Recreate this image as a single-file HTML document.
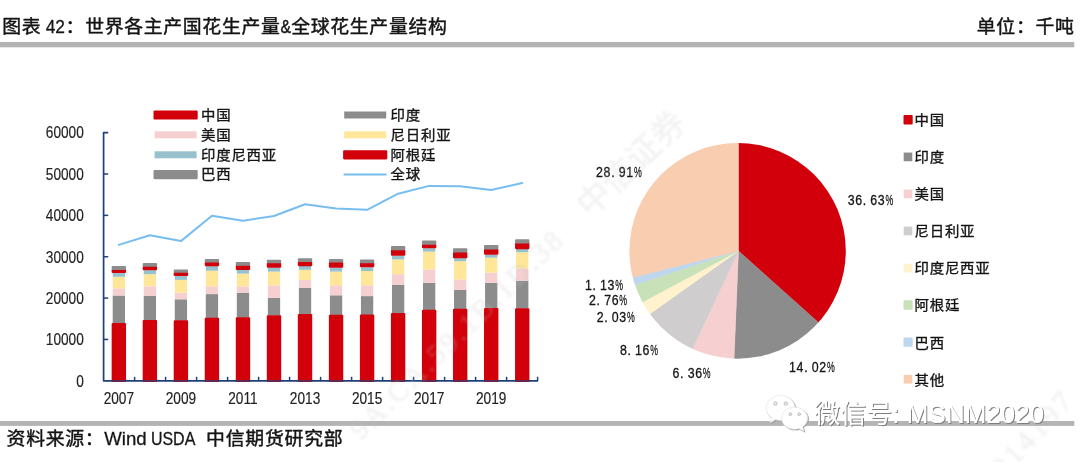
<!DOCTYPE html>
<html lang="zh-CN">
<head>
<meta charset="utf-8">
<title>图表 42：世界各主产国花生产量&amp;全球花生产量结构</title>
<style>
html,body{margin:0;padding:0;background:#fff;}
body{width:1080px;height:462px;overflow:hidden;}
svg{display:block;}
</style>
</head>
<body>
<svg width="1080" height="462" viewBox="0 0 1080 462">
<defs>
<clipPath id="plot"><rect x="103.6" y="120" width="440" height="261.90"/></clipPath>
<filter id="soft" x="-10%" y="-10%" width="120%" height="120%"><feGaussianBlur stdDeviation="1.1"/></filter>
<filter id="shadow" x="-5%" y="-20%" width="110%" height="150%"><feOffset in="SourceAlpha" dx="1" dy="1" result="o"/><feFlood flood-color="#7e7e7e"/><feComposite in2="o" operator="in" result="s"/><feMerge><feMergeNode in="s"/><feMergeNode in="SourceGraphic"/></feMerge></filter>
</defs>
<rect width="1080" height="462" fill="#fff"/>
<rect x="0.00" y="42.00" width="1074.30" height="5.30" fill="#b4b4b4"/>
<rect x="0.00" y="421.00" width="1074.30" height="4.90" fill="#b4b4b4"/>
<text transform="translate(0 33.3) scale(1 0.955)" font-family='"Liberation Sans","Noto Sans CJK SC",sans-serif' font-size="18.9" fill="#141414" stroke="#141414" stroke-width="0.45" stroke-linejoin="round" xml:space="preserve"><tspan x="2.3" letter-spacing="0.65">图表 </tspan><tspan x="45.7" font-size="19.90" stroke-width="0.3" textLength="19.3" lengthAdjust="spacingAndGlyphs">42</tspan><tspan x="65.6" letter-spacing="0.65">：世界各主产国花生产量</tspan><tspan x="280.6" font-size="19.48" stroke-width="0.5" textLength="10.4" lengthAdjust="spacingAndGlyphs">&amp;</tspan><tspan x="291.2" letter-spacing="0.65">全球花生产量结构</tspan></text>
<text transform="translate(976.80 33.30) scale(1.0 0.955)" font-family='"Liberation Sans","Noto Sans CJK SC",sans-serif' font-size="18.9" fill="#141414" stroke="#141414" stroke-width="0.45" stroke-linejoin="round" letter-spacing="0.65">单位：千吨</text>
<text transform="translate(0 445.3) scale(1 0.955)" font-family='"Liberation Sans","Noto Sans CJK SC",sans-serif' font-size="18.9" fill="#141414" stroke="#141414" stroke-width="0.45" stroke-linejoin="round" xml:space="preserve"><tspan x="6.6" letter-spacing="0.65">资料来源：</tspan><tspan x="104.3" font-size="19.48" stroke-width="0.3" textLength="42.4" lengthAdjust="spacingAndGlyphs">Wind</tspan><tspan x="146.0" letter-spacing="0"> </tspan><tspan x="150.9" font-size="19.48" stroke-width="0.3" textLength="44.4" lengthAdjust="spacingAndGlyphs">USDA</tspan><tspan x="196.0" letter-spacing="0">  </tspan><tspan x="206.0" letter-spacing="0.75">中信期货研究部</tspan></text>
<g clip-path="url(#plot)">
<rect x="112.70" y="295.50" width="12.30" height="28.00" fill="#8c8c8c"/>
<rect x="112.70" y="288.40" width="12.30" height="7.10" fill="#f6cfd0"/>
<rect x="112.70" y="276.80" width="12.30" height="11.60" fill="#ffe699"/>
<rect x="112.70" y="272.90" width="12.30" height="3.90" fill="#97c1cc"/>
<rect x="112.70" y="324.05" width="12.30" height="61.80" fill="#d2000a" stroke="#d2000a" stroke-width="2.1" stroke-linejoin="round"/>
<rect x="112.70" y="270.25" width="12.30" height="1.75" fill="#d2000a" stroke="#d2000a" stroke-width="2.1" stroke-linejoin="round"/>
<rect x="112.70" y="267.05" width="12.30" height="1.80" fill="#8c8c8c" stroke="#8c8c8c" stroke-width="2.1" stroke-linejoin="round"/>
<rect x="143.73" y="296.00" width="12.30" height="24.40" fill="#8c8c8c"/>
<rect x="143.73" y="286.30" width="12.30" height="9.70" fill="#f6cfd0"/>
<rect x="143.73" y="274.20" width="12.30" height="12.10" fill="#ffe699"/>
<rect x="143.73" y="270.20" width="12.30" height="4.00" fill="#97c1cc"/>
<rect x="143.73" y="320.95" width="12.30" height="64.90" fill="#d2000a" stroke="#d2000a" stroke-width="2.1" stroke-linejoin="round"/>
<rect x="143.73" y="267.15" width="12.30" height="2.15" fill="#d2000a" stroke="#d2000a" stroke-width="2.1" stroke-linejoin="round"/>
<rect x="143.73" y="264.15" width="12.30" height="1.60" fill="#8c8c8c" stroke="#8c8c8c" stroke-width="2.1" stroke-linejoin="round"/>
<rect x="174.76" y="299.30" width="12.30" height="21.40" fill="#8c8c8c"/>
<rect x="174.76" y="292.70" width="12.30" height="6.60" fill="#f6cfd0"/>
<rect x="174.76" y="279.90" width="12.30" height="12.80" fill="#ffe699"/>
<rect x="174.76" y="275.90" width="12.30" height="4.00" fill="#97c1cc"/>
<rect x="174.76" y="321.25" width="12.30" height="64.60" fill="#d2000a" stroke="#d2000a" stroke-width="2.1" stroke-linejoin="round"/>
<rect x="174.76" y="273.15" width="12.30" height="1.85" fill="#d2000a" stroke="#d2000a" stroke-width="2.1" stroke-linejoin="round"/>
<rect x="174.76" y="270.55" width="12.30" height="1.20" fill="#8c8c8c" stroke="#8c8c8c" stroke-width="2.1" stroke-linejoin="round"/>
<rect x="205.79" y="294.10" width="12.30" height="24.20" fill="#8c8c8c"/>
<rect x="205.79" y="286.30" width="12.30" height="7.80" fill="#f6cfd0"/>
<rect x="205.79" y="270.70" width="12.30" height="15.60" fill="#ffe699"/>
<rect x="205.79" y="266.00" width="12.30" height="4.70" fill="#97c1cc"/>
<rect x="205.79" y="318.85" width="12.30" height="67.00" fill="#d2000a" stroke="#d2000a" stroke-width="2.1" stroke-linejoin="round"/>
<rect x="205.79" y="262.95" width="12.30" height="2.15" fill="#d2000a" stroke="#d2000a" stroke-width="2.1" stroke-linejoin="round"/>
<rect x="205.79" y="260.15" width="12.30" height="1.40" fill="#8c8c8c" stroke="#8c8c8c" stroke-width="2.1" stroke-linejoin="round"/>
<rect x="236.82" y="292.70" width="12.30" height="25.10" fill="#8c8c8c"/>
<rect x="236.82" y="286.30" width="12.30" height="6.40" fill="#f6cfd0"/>
<rect x="236.82" y="273.60" width="12.30" height="12.70" fill="#ffe699"/>
<rect x="236.82" y="269.80" width="12.30" height="3.80" fill="#97c1cc"/>
<rect x="236.82" y="318.35" width="12.30" height="67.50" fill="#d2000a" stroke="#d2000a" stroke-width="2.1" stroke-linejoin="round"/>
<rect x="236.82" y="266.05" width="12.30" height="2.85" fill="#d2000a" stroke="#d2000a" stroke-width="2.1" stroke-linejoin="round"/>
<rect x="236.82" y="263.05" width="12.30" height="1.60" fill="#8c8c8c" stroke="#8c8c8c" stroke-width="2.1" stroke-linejoin="round"/>
<rect x="267.85" y="297.90" width="12.30" height="17.80" fill="#8c8c8c"/>
<rect x="267.85" y="285.40" width="12.30" height="12.50" fill="#f6cfd0"/>
<rect x="267.85" y="271.60" width="12.30" height="13.80" fill="#ffe699"/>
<rect x="267.85" y="267.60" width="12.30" height="4.00" fill="#97c1cc"/>
<rect x="267.85" y="316.25" width="12.30" height="69.60" fill="#d2000a" stroke="#d2000a" stroke-width="2.1" stroke-linejoin="round"/>
<rect x="267.85" y="263.65" width="12.30" height="3.05" fill="#d2000a" stroke="#d2000a" stroke-width="2.1" stroke-linejoin="round"/>
<rect x="267.85" y="260.85" width="12.30" height="1.40" fill="#8c8c8c" stroke="#8c8c8c" stroke-width="2.1" stroke-linejoin="round"/>
<rect x="298.88" y="287.70" width="12.30" height="26.80" fill="#8c8c8c"/>
<rect x="298.88" y="279.90" width="12.30" height="7.80" fill="#f6cfd0"/>
<rect x="298.88" y="269.80" width="12.30" height="10.10" fill="#ffe699"/>
<rect x="298.88" y="266.00" width="12.30" height="3.80" fill="#97c1cc"/>
<rect x="298.88" y="315.05" width="12.30" height="70.80" fill="#d2000a" stroke="#d2000a" stroke-width="2.1" stroke-linejoin="round"/>
<rect x="298.88" y="262.25" width="12.30" height="2.85" fill="#d2000a" stroke="#d2000a" stroke-width="2.1" stroke-linejoin="round"/>
<rect x="298.88" y="259.25" width="12.30" height="1.60" fill="#8c8c8c" stroke="#8c8c8c" stroke-width="2.1" stroke-linejoin="round"/>
<rect x="329.91" y="295.30" width="12.30" height="19.90" fill="#8c8c8c"/>
<rect x="329.91" y="285.40" width="12.30" height="9.90" fill="#f6cfd0"/>
<rect x="329.91" y="271.60" width="12.30" height="13.80" fill="#ffe699"/>
<rect x="329.91" y="267.60" width="12.30" height="4.00" fill="#97c1cc"/>
<rect x="329.91" y="315.75" width="12.30" height="70.10" fill="#d2000a" stroke="#d2000a" stroke-width="2.1" stroke-linejoin="round"/>
<rect x="329.91" y="262.95" width="12.30" height="3.75" fill="#d2000a" stroke="#d2000a" stroke-width="2.1" stroke-linejoin="round"/>
<rect x="329.91" y="260.15" width="12.30" height="1.40" fill="#8c8c8c" stroke="#8c8c8c" stroke-width="2.1" stroke-linejoin="round"/>
<rect x="360.94" y="296.10" width="12.30" height="18.90" fill="#8c8c8c"/>
<rect x="360.94" y="285.40" width="12.30" height="10.70" fill="#f6cfd0"/>
<rect x="360.94" y="271.00" width="12.30" height="14.40" fill="#ffe699"/>
<rect x="360.94" y="267.20" width="12.30" height="3.80" fill="#97c1cc"/>
<rect x="360.94" y="315.55" width="12.30" height="70.30" fill="#d2000a" stroke="#d2000a" stroke-width="2.1" stroke-linejoin="round"/>
<rect x="360.94" y="263.65" width="12.30" height="2.65" fill="#d2000a" stroke="#d2000a" stroke-width="2.1" stroke-linejoin="round"/>
<rect x="360.94" y="260.65" width="12.30" height="1.60" fill="#8c8c8c" stroke="#8c8c8c" stroke-width="2.1" stroke-linejoin="round"/>
<rect x="391.97" y="284.70" width="12.30" height="28.80" fill="#8c8c8c"/>
<rect x="391.97" y="274.20" width="12.30" height="10.50" fill="#f6cfd0"/>
<rect x="391.97" y="259.40" width="12.30" height="14.80" fill="#ffe699"/>
<rect x="391.97" y="255.60" width="12.30" height="3.80" fill="#97c1cc"/>
<rect x="391.97" y="314.05" width="12.30" height="71.80" fill="#d2000a" stroke="#d2000a" stroke-width="2.1" stroke-linejoin="round"/>
<rect x="391.97" y="250.65" width="12.30" height="4.05" fill="#d2000a" stroke="#d2000a" stroke-width="2.1" stroke-linejoin="round"/>
<rect x="391.97" y="247.15" width="12.30" height="2.10" fill="#8c8c8c" stroke="#8c8c8c" stroke-width="2.1" stroke-linejoin="round"/>
<rect x="423.00" y="282.80" width="12.30" height="27.40" fill="#8c8c8c"/>
<rect x="423.00" y="269.50" width="12.30" height="13.30" fill="#f6cfd0"/>
<rect x="423.00" y="251.60" width="12.30" height="17.90" fill="#ffe699"/>
<rect x="423.00" y="248.20" width="12.30" height="3.40" fill="#97c1cc"/>
<rect x="423.00" y="310.75" width="12.30" height="75.10" fill="#d2000a" stroke="#d2000a" stroke-width="2.1" stroke-linejoin="round"/>
<rect x="423.00" y="245.15" width="12.30" height="2.15" fill="#d2000a" stroke="#d2000a" stroke-width="2.1" stroke-linejoin="round"/>
<rect x="423.00" y="241.45" width="12.30" height="2.30" fill="#8c8c8c" stroke="#8c8c8c" stroke-width="2.1" stroke-linejoin="round"/>
<rect x="454.03" y="289.90" width="12.30" height="19.30" fill="#8c8c8c"/>
<rect x="454.03" y="279.50" width="12.30" height="10.40" fill="#f6cfd0"/>
<rect x="454.03" y="261.20" width="12.30" height="18.30" fill="#ffe699"/>
<rect x="454.03" y="258.10" width="12.30" height="3.10" fill="#97c1cc"/>
<rect x="454.03" y="309.75" width="12.30" height="76.10" fill="#d2000a" stroke="#d2000a" stroke-width="2.1" stroke-linejoin="round"/>
<rect x="454.03" y="252.95" width="12.30" height="4.25" fill="#d2000a" stroke="#d2000a" stroke-width="2.1" stroke-linejoin="round"/>
<rect x="454.03" y="249.25" width="12.30" height="2.30" fill="#8c8c8c" stroke="#8c8c8c" stroke-width="2.1" stroke-linejoin="round"/>
<rect x="485.06" y="282.80" width="12.30" height="25.70" fill="#8c8c8c"/>
<rect x="485.06" y="272.60" width="12.30" height="10.20" fill="#f6cfd0"/>
<rect x="485.06" y="257.70" width="12.30" height="14.90" fill="#ffe699"/>
<rect x="485.06" y="254.60" width="12.30" height="3.10" fill="#97c1cc"/>
<rect x="485.06" y="309.05" width="12.30" height="76.80" fill="#d2000a" stroke="#d2000a" stroke-width="2.1" stroke-linejoin="round"/>
<rect x="485.06" y="249.75" width="12.30" height="3.95" fill="#d2000a" stroke="#d2000a" stroke-width="2.1" stroke-linejoin="round"/>
<rect x="485.06" y="246.15" width="12.30" height="2.20" fill="#8c8c8c" stroke="#8c8c8c" stroke-width="2.1" stroke-linejoin="round"/>
<rect x="516.09" y="280.70" width="12.30" height="28.00" fill="#8c8c8c"/>
<rect x="516.09" y="268.40" width="12.30" height="12.30" fill="#f6cfd0"/>
<rect x="516.09" y="252.20" width="12.30" height="16.20" fill="#ffe699"/>
<rect x="516.09" y="249.00" width="12.30" height="3.20" fill="#97c1cc"/>
<rect x="516.09" y="309.25" width="12.30" height="76.60" fill="#d2000a" stroke="#d2000a" stroke-width="2.1" stroke-linejoin="round"/>
<rect x="516.09" y="243.75" width="12.30" height="4.35" fill="#d2000a" stroke="#d2000a" stroke-width="2.1" stroke-linejoin="round"/>
<rect x="516.09" y="240.25" width="12.30" height="2.10" fill="#8c8c8c" stroke="#8c8c8c" stroke-width="2.1" stroke-linejoin="round"/>
</g>
<g stroke="#1f3f78" stroke-width="1.7" fill="none" stroke-linejoin="round">
<path d="M108.20 132.64 H103.6 V380.8 H538.10"/>
<path d="M103.6 339.44 h4.6" stroke-width="1.5"/>
<path d="M103.6 298.08 h4.6" stroke-width="1.5"/>
<path d="M103.6 256.72 h4.6" stroke-width="1.5"/>
<path d="M103.6 215.36 h4.6" stroke-width="1.5"/>
<path d="M103.6 174.00 h4.6" stroke-width="1.5"/>
<path d="M134.60 380.8 v-4.0" stroke-width="1.5"/>
<path d="M165.60 380.8 v-4.0" stroke-width="1.5"/>
<path d="M196.60 380.8 v-4.0" stroke-width="1.5"/>
<path d="M227.60 380.8 v-4.0" stroke-width="1.5"/>
<path d="M258.60 380.8 v-4.0" stroke-width="1.5"/>
<path d="M289.60 380.8 v-4.0" stroke-width="1.5"/>
<path d="M320.60 380.8 v-4.0" stroke-width="1.5"/>
<path d="M351.60 380.8 v-4.0" stroke-width="1.5"/>
<path d="M382.60 380.8 v-4.0" stroke-width="1.5"/>
<path d="M413.60 380.8 v-4.0" stroke-width="1.5"/>
<path d="M444.60 380.8 v-4.0" stroke-width="1.5"/>
<path d="M475.60 380.8 v-4.0" stroke-width="1.5"/>
<path d="M506.60 380.8 v-4.0" stroke-width="1.5"/>
<path d="M537.60 380.8 v-4.0" stroke-width="1.5"/>
</g>
<g fill="#d2000a" opacity="0.28">
<rect x="111.65" y="379.95" width="14.40" height="2.00" fill="#d2000a"/>
<rect x="142.68" y="379.95" width="14.40" height="2.00" fill="#d2000a"/>
<rect x="173.71" y="379.95" width="14.40" height="2.00" fill="#d2000a"/>
<rect x="204.74" y="379.95" width="14.40" height="2.00" fill="#d2000a"/>
<rect x="235.77" y="379.95" width="14.40" height="2.00" fill="#d2000a"/>
<rect x="266.80" y="379.95" width="14.40" height="2.00" fill="#d2000a"/>
<rect x="297.83" y="379.95" width="14.40" height="2.00" fill="#d2000a"/>
<rect x="328.86" y="379.95" width="14.40" height="2.00" fill="#d2000a"/>
<rect x="359.89" y="379.95" width="14.40" height="2.00" fill="#d2000a"/>
<rect x="390.92" y="379.95" width="14.40" height="2.00" fill="#d2000a"/>
<rect x="421.95" y="379.95" width="14.40" height="2.00" fill="#d2000a"/>
<rect x="452.98" y="379.95" width="14.40" height="2.00" fill="#d2000a"/>
<rect x="484.01" y="379.95" width="14.40" height="2.00" fill="#d2000a"/>
<rect x="515.04" y="379.95" width="14.40" height="2.00" fill="#d2000a"/>
</g>
<polyline points="118.85,244.90 149.88,235.30 180.91,241.10 211.94,215.80 242.97,220.80 274.00,216.00 305.03,204.30 336.06,208.50 367.09,209.80 398.12,193.70 429.15,185.90 460.18,186.20 491.21,190.00 522.24,183.00" fill="none" stroke="#78bdf0" stroke-width="2.0" stroke-linejoin="round" stroke-linecap="round"/>
<text transform="translate(83.80 386.60) scale(0.876 1.0)" font-family='"Liberation Sans",sans-serif' font-size="15.6" fill="#222222" stroke="#222222" stroke-width="0.15" stroke-linejoin="round" text-anchor="end">0</text>
<text transform="translate(83.80 345.24) scale(0.876 1.0)" font-family='"Liberation Sans",sans-serif' font-size="15.6" fill="#222222" stroke="#222222" stroke-width="0.15" stroke-linejoin="round" text-anchor="end">10000</text>
<text transform="translate(83.80 303.88) scale(0.876 1.0)" font-family='"Liberation Sans",sans-serif' font-size="15.6" fill="#222222" stroke="#222222" stroke-width="0.15" stroke-linejoin="round" text-anchor="end">20000</text>
<text transform="translate(83.80 262.52) scale(0.876 1.0)" font-family='"Liberation Sans",sans-serif' font-size="15.6" fill="#222222" stroke="#222222" stroke-width="0.15" stroke-linejoin="round" text-anchor="end">30000</text>
<text transform="translate(83.80 221.16) scale(0.876 1.0)" font-family='"Liberation Sans",sans-serif' font-size="15.6" fill="#222222" stroke="#222222" stroke-width="0.15" stroke-linejoin="round" text-anchor="end">40000</text>
<text transform="translate(83.80 179.80) scale(0.876 1.0)" font-family='"Liberation Sans",sans-serif' font-size="15.6" fill="#222222" stroke="#222222" stroke-width="0.15" stroke-linejoin="round" text-anchor="end">50000</text>
<text transform="translate(83.80 138.44) scale(0.876 1.0)" font-family='"Liberation Sans",sans-serif' font-size="15.6" fill="#222222" stroke="#222222" stroke-width="0.15" stroke-linejoin="round" text-anchor="end">60000</text>
<text transform="translate(118.85 403.70) scale(0.876 1.0)" font-family='"Liberation Sans",sans-serif' font-size="15.6" fill="#222222" stroke="#222222" stroke-width="0.15" stroke-linejoin="round" text-anchor="middle">2007</text>
<text transform="translate(180.91 403.70) scale(0.876 1.0)" font-family='"Liberation Sans",sans-serif' font-size="15.6" fill="#222222" stroke="#222222" stroke-width="0.15" stroke-linejoin="round" text-anchor="middle">2009</text>
<text transform="translate(242.97 403.70) scale(0.876 1.0)" font-family='"Liberation Sans",sans-serif' font-size="15.6" fill="#222222" stroke="#222222" stroke-width="0.15" stroke-linejoin="round" text-anchor="middle">2011</text>
<text transform="translate(305.03 403.70) scale(0.876 1.0)" font-family='"Liberation Sans",sans-serif' font-size="15.6" fill="#222222" stroke="#222222" stroke-width="0.15" stroke-linejoin="round" text-anchor="middle">2013</text>
<text transform="translate(367.09 403.70) scale(0.876 1.0)" font-family='"Liberation Sans",sans-serif' font-size="15.6" fill="#222222" stroke="#222222" stroke-width="0.15" stroke-linejoin="round" text-anchor="middle">2015</text>
<text transform="translate(429.15 403.70) scale(0.876 1.0)" font-family='"Liberation Sans",sans-serif' font-size="15.6" fill="#222222" stroke="#222222" stroke-width="0.15" stroke-linejoin="round" text-anchor="middle">2017</text>
<text transform="translate(491.21 403.70) scale(0.876 1.0)" font-family='"Liberation Sans",sans-serif' font-size="15.6" fill="#222222" stroke="#222222" stroke-width="0.15" stroke-linejoin="round" text-anchor="middle">2019</text>
<rect x="154.60" y="111.50" width="42.00" height="7.00" fill="#d2000a" stroke="#d2000a" stroke-width="2.2" stroke-linejoin="round"/>
<text transform="translate(201.00 120.30) scale(1.0 0.94)" font-family='"Liberation Sans","Noto Sans CJK SC",sans-serif' font-size="14.4" fill="#141414" stroke="#141414" stroke-width="0.35" stroke-linejoin="round" letter-spacing="0.8">中国</text>
<rect x="154.60" y="131.30" width="42.00" height="7.00" fill="#f6cfd0"/>
<text transform="translate(201.00 139.90) scale(1.0 0.94)" font-family='"Liberation Sans","Noto Sans CJK SC",sans-serif' font-size="14.4" fill="#141414" stroke="#141414" stroke-width="0.35" stroke-linejoin="round" letter-spacing="0.8">美国</text>
<rect x="154.60" y="151.30" width="42.00" height="7.00" fill="#97c1cc"/>
<text transform="translate(201.00 159.70) scale(1.0 0.94)" font-family='"Liberation Sans","Noto Sans CJK SC",sans-serif' font-size="14.4" fill="#141414" stroke="#141414" stroke-width="0.35" stroke-linejoin="round" letter-spacing="0.8">印度尼西亚</text>
<rect x="154.60" y="171.10" width="42.00" height="7.00" fill="#8c8c8c" stroke="#8c8c8c" stroke-width="2.2" stroke-linejoin="round"/>
<text transform="translate(201.00 179.30) scale(1.0 0.94)" font-family='"Liberation Sans","Noto Sans CJK SC",sans-serif' font-size="14.4" fill="#141414" stroke="#141414" stroke-width="0.35" stroke-linejoin="round" letter-spacing="0.8">巴西</text>
<rect x="344.20" y="111.50" width="42.00" height="7.00" fill="#8c8c8c"/>
<text transform="translate(390.60 120.30) scale(1.0 0.94)" font-family='"Liberation Sans","Noto Sans CJK SC",sans-serif' font-size="14.4" fill="#141414" stroke="#141414" stroke-width="0.35" stroke-linejoin="round" letter-spacing="0.8">印度</text>
<rect x="344.20" y="131.30" width="42.00" height="7.00" fill="#ffe699"/>
<text transform="translate(390.60 139.90) scale(1.0 0.94)" font-family='"Liberation Sans","Noto Sans CJK SC",sans-serif' font-size="14.4" fill="#141414" stroke="#141414" stroke-width="0.35" stroke-linejoin="round" letter-spacing="0.8">尼日利亚</text>
<rect x="344.20" y="151.30" width="42.00" height="7.00" fill="#d2000a" stroke="#d2000a" stroke-width="2.2" stroke-linejoin="round"/>
<text transform="translate(390.60 159.70) scale(1.0 0.94)" font-family='"Liberation Sans","Noto Sans CJK SC",sans-serif' font-size="14.4" fill="#141414" stroke="#141414" stroke-width="0.35" stroke-linejoin="round" letter-spacing="0.8">阿根廷</text>
<path d="M343.6 174.4 H386.6" stroke="#78bdf0" stroke-width="2.0" fill="none"/>
<text transform="translate(390.60 179.30) scale(1.0 0.94)" font-family='"Liberation Sans","Noto Sans CJK SC",sans-serif' font-size="14.4" fill="#141414" stroke="#141414" stroke-width="0.35" stroke-linejoin="round" letter-spacing="0.8">全球</text>
<clipPath id="pieclip"><ellipse cx="737.6" cy="250.85" rx="108.2" ry="107.8"/></clipPath>
<g clip-path="url(#pieclip)">
<path d="M738.5 250.9 L738.50 110.90 A140 140 0 0 1 842.76 344.34 Z" fill="#d2000a" stroke="#d2000a" stroke-width="0.4"/>
<path d="M738.5 250.9 L842.76 344.34 A140 140 0 0 1 732.78 390.78 Z" fill="#8c8c8c" stroke="#8c8c8c" stroke-width="0.4"/>
<path d="M738.5 250.9 L732.78 390.78 A140 140 0 0 1 678.81 377.54 Z" fill="#f6cfd0" stroke="#f6cfd0" stroke-width="0.4"/>
<path d="M738.5 250.9 L678.81 377.54 A140 140 0 0 1 624.37 331.98 Z" fill="#cfcdcd" stroke="#cfcdcd" stroke-width="0.4"/>
<path d="M738.5 250.9 L624.37 331.98 A140 140 0 0 1 614.98 316.80 Z" fill="#fff2cc" stroke="#fff2cc" stroke-width="0.4"/>
<path d="M738.5 250.9 L614.98 316.80 A140 140 0 0 1 605.46 294.50 Z" fill="#c8e1b8" stroke="#c8e1b8" stroke-width="0.4"/>
<path d="M738.5 250.9 L605.46 294.50 A140 140 0 0 1 602.70 284.95 Z" fill="#bed7ee" stroke="#bed7ee" stroke-width="0.4"/>
<path d="M738.5 250.9 L602.70 284.95 A140 140 0 0 1 738.50 110.90 Z" fill="#f8cdb0" stroke="#f8cdb0" stroke-width="0.4"/>
</g>
<text transform="translate(596.10 176.85) scale(0.835 1)" font-family='"Liberation Sans",sans-serif' font-size="14.8" fill="#141414" stroke="#141414" stroke-width="0.3"><tspan x="0.00 9.01 18.01 27.02 36.02">28.91</tspan><tspan x="45.27" font-size="14.6" stroke-width="0.25" textLength="9.33" lengthAdjust="spacingAndGlyphs">%</tspan></text>
<text transform="translate(847.70 204.95) scale(0.835 1)" font-family='"Liberation Sans",sans-serif' font-size="14.8" fill="#141414" stroke="#141414" stroke-width="0.3"><tspan x="0.00 9.01 18.01 27.02 36.02">36.63</tspan><tspan x="45.27" font-size="14.6" stroke-width="0.25" textLength="9.33" lengthAdjust="spacingAndGlyphs">%</tspan></text>
<text transform="translate(789.10 371.75) scale(0.835 1)" font-family='"Liberation Sans",sans-serif' font-size="14.8" fill="#141414" stroke="#141414" stroke-width="0.3"><tspan x="0.00 9.01 18.01 27.02 36.02">14.02</tspan><tspan x="45.27" font-size="14.6" stroke-width="0.25" textLength="9.33" lengthAdjust="spacingAndGlyphs">%</tspan></text>
<text transform="translate(672.60 378.15) scale(0.835 1)" font-family='"Liberation Sans",sans-serif' font-size="14.8" fill="#141414" stroke="#141414" stroke-width="0.3"><tspan x="0.00 9.01 18.01 27.02">6.36</tspan><tspan x="36.26" font-size="14.6" stroke-width="0.25" textLength="9.33" lengthAdjust="spacingAndGlyphs">%</tspan></text>
<text transform="translate(620.00 354.55) scale(0.835 1)" font-family='"Liberation Sans",sans-serif' font-size="14.8" fill="#141414" stroke="#141414" stroke-width="0.3"><tspan x="0.00 9.01 18.01 27.02">8.16</tspan><tspan x="36.26" font-size="14.6" stroke-width="0.25" textLength="9.33" lengthAdjust="spacingAndGlyphs">%</tspan></text>
<text transform="translate(596.70 322.15) scale(0.835 1)" font-family='"Liberation Sans",sans-serif' font-size="14.8" fill="#141414" stroke="#141414" stroke-width="0.3"><tspan x="0.00 9.01 18.01 27.02">2.03</tspan><tspan x="36.26" font-size="14.6" stroke-width="0.25" textLength="9.33" lengthAdjust="spacingAndGlyphs">%</tspan></text>
<text transform="translate(589.10 305.05) scale(0.835 1)" font-family='"Liberation Sans",sans-serif' font-size="14.8" fill="#141414" stroke="#141414" stroke-width="0.3"><tspan x="0.00 9.01 18.01 27.02">2.76</tspan><tspan x="36.26" font-size="14.6" stroke-width="0.25" textLength="9.33" lengthAdjust="spacingAndGlyphs">%</tspan></text>
<text transform="translate(584.90 289.75) scale(0.835 1)" font-family='"Liberation Sans",sans-serif' font-size="14.8" fill="#141414" stroke="#141414" stroke-width="0.3"><tspan x="0.00 9.01 18.01 27.02">1.13</tspan><tspan x="36.26" font-size="14.6" stroke-width="0.25" textLength="9.33" lengthAdjust="spacingAndGlyphs">%</tspan></text>
<rect x="904.40" y="116.00" width="7.40" height="7.60" fill="#d2000a" stroke="#d2000a" stroke-width="1.8" stroke-linejoin="round"/>
<text transform="translate(914.50 125.20) scale(1.0 0.94)" font-family='"Liberation Sans","Noto Sans CJK SC",sans-serif' font-size="14.4" fill="#141414" stroke="#141414" stroke-width="0.35" stroke-linejoin="round" letter-spacing="0.8">中国</text>
<rect x="903.70" y="152.55" width="8.60" height="8.70" fill="#8c8c8c"/>
<text transform="translate(914.50 162.25) scale(1.0 0.94)" font-family='"Liberation Sans","Noto Sans CJK SC",sans-serif' font-size="14.4" fill="#141414" stroke="#141414" stroke-width="0.35" stroke-linejoin="round" letter-spacing="0.8">印度</text>
<rect x="903.70" y="189.60" width="8.60" height="8.70" fill="#f6cfd0"/>
<text transform="translate(914.50 199.30) scale(1.0 0.94)" font-family='"Liberation Sans","Noto Sans CJK SC",sans-serif' font-size="14.4" fill="#141414" stroke="#141414" stroke-width="0.35" stroke-linejoin="round" letter-spacing="0.8">美国</text>
<rect x="903.70" y="226.65" width="8.60" height="8.70" fill="#cfcdcd"/>
<text transform="translate(914.50 236.35) scale(1.0 0.94)" font-family='"Liberation Sans","Noto Sans CJK SC",sans-serif' font-size="14.4" fill="#141414" stroke="#141414" stroke-width="0.35" stroke-linejoin="round" letter-spacing="0.8">尼日利亚</text>
<rect x="903.70" y="263.70" width="8.60" height="8.70" fill="#fff2cc"/>
<text transform="translate(914.50 273.40) scale(1.0 0.94)" font-family='"Liberation Sans","Noto Sans CJK SC",sans-serif' font-size="14.4" fill="#141414" stroke="#141414" stroke-width="0.35" stroke-linejoin="round" letter-spacing="0.8">印度尼西亚</text>
<rect x="904.40" y="301.25" width="7.40" height="7.60" fill="#c8e1b8" stroke="#c8e1b8" stroke-width="1.8" stroke-linejoin="round"/>
<text transform="translate(914.50 310.45) scale(1.0 0.94)" font-family='"Liberation Sans","Noto Sans CJK SC",sans-serif' font-size="14.4" fill="#141414" stroke="#141414" stroke-width="0.35" stroke-linejoin="round" letter-spacing="0.8">阿根廷</text>
<rect x="904.40" y="338.30" width="7.40" height="7.60" fill="#bed7ee" stroke="#bed7ee" stroke-width="1.8" stroke-linejoin="round"/>
<text transform="translate(914.50 347.50) scale(1.0 0.94)" font-family='"Liberation Sans","Noto Sans CJK SC",sans-serif' font-size="14.4" fill="#141414" stroke="#141414" stroke-width="0.35" stroke-linejoin="round" letter-spacing="0.8">巴西</text>
<rect x="903.70" y="374.85" width="8.60" height="8.70" fill="#f8cdb0"/>
<text transform="translate(914.50 384.55) scale(1.0 0.94)" font-family='"Liberation Sans","Noto Sans CJK SC",sans-serif' font-size="14.4" fill="#141414" stroke="#141414" stroke-width="0.35" stroke-linejoin="round" letter-spacing="0.8">其他</text>
<g id="wm" filter="url(#soft)" opacity="0.21">
<text x="590.00" y="218.50" font-family='"Liberation Sans","Noto Sans CJK SC",sans-serif' font-size="33.5" fill="#c4c4c4" stroke="#c4c4c4" stroke-width="0.6" stroke-linejoin="round" letter-spacing="0.4" transform="rotate(-43.5 590 218.5)">中信证券</text>
<text transform="translate(361.1 440.9) rotate(-44.2)" font-family='"Liberation Serif",serif' font-size="29" fill="#c4c4c4" stroke="#c4c4c4" stroke-width="0.8" textLength="284" lengthAdjust="spacing">9A.CA.59.1B.1D.38</text>
<text transform="translate(1003 479) rotate(-47)" font-family='"Liberation Serif",serif' font-size="29" fill="#c4c4c4" stroke="#c4c4c4" stroke-width="0.8" textLength="104" lengthAdjust="spacing">914197</text>
</g>
<g id="wechat">
<g transform="translate(0.9 0.9)" fill="#a0a0a0" stroke="#a0a0a0" stroke-width="0.8" stroke-linejoin="round"><path d="M780.6 395.6c-8 0-14.4 5.5-14.4 12.4 0 3.900 2.100 7.400 5.400 9.700l-1.700 5 5.700-3.100c1.600.5 3.300.8 5 .8 8 0 14.400-5.500 14.400-12.400s-6.400-12.400-14.400-12.400z"/><path d="M794.6 407.2c-7.200 0-13 4.900-13 11s5.800 11 13 11c1.500 0 3-.2 4.300-.6l5.200 2.700-1.500-4.500c3-2 5-5.100 5-8.600 0-6.100-5.800-11-13-11z"/></g>
<g transform="translate(0 0)" fill="#ffffff" stroke="#e4e4e4" stroke-width="0.7" stroke-linejoin="round"><path d="M780.6 395.6c-8 0-14.4 5.5-14.4 12.4 0 3.900 2.100 7.400 5.400 9.700l-1.700 5 5.700-3.100c1.600.5 3.300.8 5 .8 8 0 14.400-5.500 14.400-12.400s-6.400-12.400-14.400-12.400z"/><path d="M794.6 407.2c-7.200 0-13 4.900-13 11s5.800 11 13 11c1.500 0 3-.2 4.300-.6l5.200 2.700-1.500-4.500c3-2 5-5.100 5-8.600 0-6.100-5.800-11-13-11z"/></g>
<g fill="#ececec" stroke="#a8a8a8" stroke-width="0.7"><circle cx="775.4" cy="403.6" r="1.7"/><circle cx="785.8" cy="403.6" r="1.7"/><circle cx="790.4" cy="414.2" r="1.4"/><circle cx="799.2" cy="414.2" r="1.4"/></g>
<text x="814.30" y="422.60" font-family='"Liberation Sans","Noto Sans CJK SC",sans-serif' font-size="25.9" fill="#ffffff" letter-spacing="0.1" filter="url(#shadow)">微信号: MSNM2020</text>
</g>
</svg>
</body>
</html>
